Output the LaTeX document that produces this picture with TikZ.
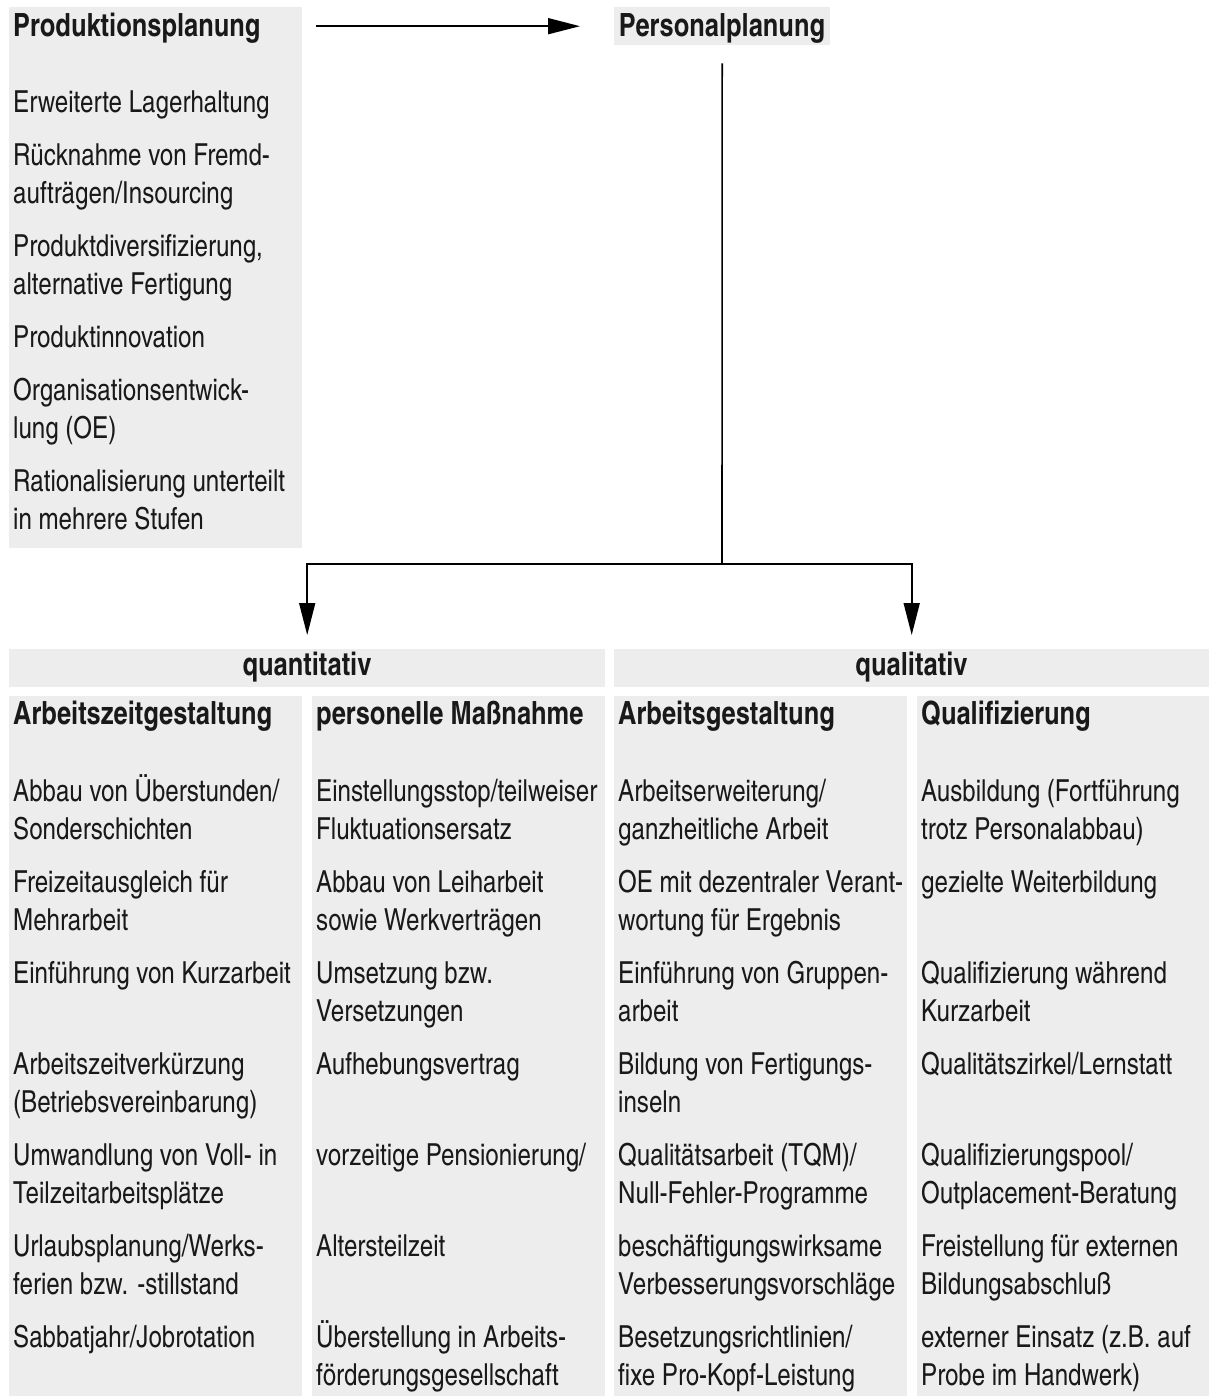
\documentclass[tikz,border=0pt]{standalone}
\usepackage{fontspec}
\setmainfont{texgyreheroscn}[Extension=.otf, UprightFont=*-regular, BoldFont=*-bold, FakeStretch=0.97]
\usetikzlibrary{arrows.meta}
\definecolor{boxgray}{RGB}{237,237,237}
\definecolor{ink}{RGB}{25,25,25}
\tikzset{
 box/.style={fill=boxgray, draw=none, inner sep=0pt, anchor=north west},
 txt/.style={inner sep=0pt, anchor=base west, text=ink, font=\fontsize{30.3}{38}\selectfont},
 head/.style={inner sep=0pt, anchor=base west, text=ink, font=\fontsize{32}{38}\selectfont\bfseries},
 conn/.style={line width=1.6pt, draw=black},
 arr/.style={conn, -{Triangle[length=32pt,width=16pt]}},
}
\newcommand{\entry}[4]{\foreach \mytext [count=\k from 0] in {#4} {\node[txt] (#1-\k) at (#2,{#3+\k*38}) {\mytext};}}
\begin{document}
\begin{tikzpicture}[x=1pt,y=-1pt]
\useasboundingbox (0,0) rectangle (1209,1396);
% left box
\node[box, minimum width=293pt, minimum height=541pt] (prodbox) at (9,7) {};
\node[head] (prodhead) at (13,37) {Produktionsplanung};
\entry{p1}{13}{112.7}{Erweiterte Lagerhaltung}
\entry{p2}{13}{165.7}{Rücknahme von Fremd-, aufträgen/Insourcing}
\entry{p3}{13}{256.7}{{Produktdiversifizierung,}, alternative Fertigung}
\entry{p4}{13}{347.7}{Produktinnovation}
\entry{p5}{13}{400.7}{Organisationsentwick-, lung (OE)}
\entry{p6}{13}{491.7}{Rationalisierung unterteilt, in mehrere Stufen}
% Personalplanung
\node[box, minimum width=216pt, minimum height=38pt] (perso) at (614,7) {};
\node[head, anchor=base] (persotext) at (722,37) {Personalplanung};
% quantitativ / qualitativ
\node[box, minimum width=596pt, minimum height=38pt] (quant) at (9,649) {};
\node[head, anchor=base] (quanttext) at (307,675) {quantitativ};
\node[box, minimum width=595pt, minimum height=38pt] (qual) at (614,649) {};
\node[head, anchor=base] (qualtext) at (911.5,675) {qualitativ};
% connectors
\coordinate (split) at (722,564);
\draw[arr, shorten <=14pt, shorten >=34pt] (prodbox.east |- perso.west) -- (perso.west);
\draw[conn, shorten <=18pt] (perso.south) -- (split);
\draw[arr, shorten >=14pt] (split) -| (quant.north);
\draw[arr, shorten >=14pt] (split) -| (qual.north);
% columns
\node[box, minimum width=293pt, minimum height=700pt] (col1) at (9,696) {};
\node[box, minimum width=293pt, minimum height=700pt] (col2) at (312,696) {};
\node[box, minimum width=293pt, minimum height=700pt] (col3) at (614,696) {};
\node[box, minimum width=292pt, minimum height=700pt] (col4) at (917,696) {};
\node[head] (h1) at (13,724) {Arbeitszeitgestaltung};
\node[head] (h2) at (316,724) {personelle Maßnahme};
\node[head] (h3) at (618,724) {Arbeitsgestaltung};
\node[head] (h4) at (921,724) {Qualifizierung};
% column 1
\entry{a1}{13}{801.7}{Abbau von Überstunden/, Sonderschichten}
\entry{a2}{13}{892.7}{Freizeitausgleich für, Mehrarbeit}
\entry{a3}{13}{983.7}{Einführung von Kurzarbeit}
\entry{a4}{13}{1074.7}{Arbeitszeitverkürzung, (Betriebsvereinbarung)}
\entry{a5}{13}{1165.7}{Umwandlung von Voll- in, Teilzeitarbeitsplätze}
\entry{a6}{13}{1256.7}{Urlaubsplanung/Werks-, ferien bzw. -stillstand}
\entry{a7}{13}{1347.7}{Sabbatjahr/Jobrotation}
% column 2
\entry{b1}{316}{801.7}{Einstellungsstop/teilweiser, Fluktuationsersatz}
\entry{b2}{316}{892.7}{Abbau von Leiharbeit, sowie Werkverträgen}
\entry{b3}{316}{983.7}{Umsetzung bzw., Versetzungen}
\entry{b4}{316}{1074.7}{Aufhebungsvertrag}
\entry{b5}{316}{1165.7}{vorzeitige Pensionierung/}
\entry{b6}{316}{1256.7}{Altersteilzeit}
\entry{b7}{316}{1347.7}{Überstellung in Arbeits-, förderungsgesellschaft}
% column 3
\entry{c1}{618}{801.7}{Arbeitserweiterung/, ganzheitliche Arbeit}
\entry{c2}{618}{892.7}{OE mit dezentraler Verant-, wortung für Ergebnis}
\entry{c3}{618}{983.7}{Einführung von Gruppen-, arbeit}
\entry{c4}{618}{1074.7}{Bildung von Fertigungs-, inseln}
\entry{c5}{618}{1165.7}{Qualitätsarbeit (TQM)/, Null-Fehler-Programme}
\entry{c6}{618}{1256.7}{beschäftigungswirksame, Verbesserungsvorschläge}
\entry{c7}{618}{1347.7}{Besetzungsrichtlinien/, fixe Pro-Kopf-Leistung}
% column 4
\entry{d1}{921}{801.7}{Ausbildung (Fortführung, trotz Personalabbau)}
\entry{d2}{921}{892.7}{gezielte Weiterbildung}
\entry{d3}{921}{983.7}{Qualifizierung während, Kurzarbeit}
\entry{d4}{921}{1074.7}{Qualitätszirkel/Lernstatt}
\entry{d5}{921}{1165.7}{Qualifizierungspool/, Outplacement-Beratung}
\entry{d6}{921}{1256.7}{Freistellung für externen, Bildungsabschluß}
\entry{d7}{921}{1347.7}{externer Einsatz (z.B. auf, Probe im Handwerk)}
\end{tikzpicture}
\end{document}
